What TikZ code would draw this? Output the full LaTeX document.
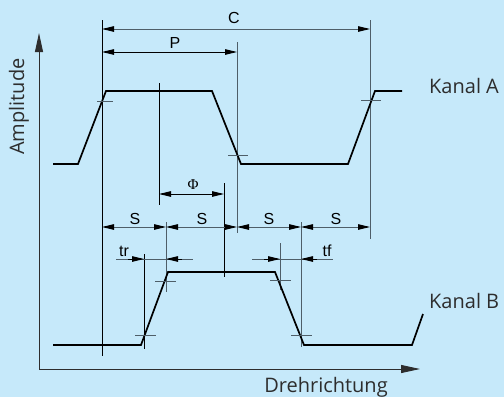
\documentclass[tikz,border=0pt]{standalone}
\usepackage{fontspec}
\setmainfont{Liberation Sans}
\newfontfamily\labfont{Open Sans}
\newfontfamily\phifont{Liberation Serif}
\usetikzlibrary{arrows.meta}
\definecolor{bg}{RGB}{198,233,250}
\definecolor{lgray}{RGB}{78,94,104}
\definecolor{txt}{RGB}{45,45,45}
\begin{document}
\begin{tikzpicture}[x=1pt,y=-1pt,
  wave/.style={line width=1.7pt, black, line join=miter},
  extb/.style={line width=0.85pt, black},
  extg/.style={line width=0.85pt, lgray},
  tickg/.style={line width=0.85pt, lgray},
  dimb/.style={line width=0.85pt, black, {Triangle[length=12pt,width=5.5pt]}-{Triangle[length=12pt,width=5.5pt]}},
  dimg/.style={line width=0.85pt, lgray, {Triangle[length=12pt,width=5.5pt,color=black]}-{Triangle[length=12pt,width=5.5pt,color=black]}},
  onetip/.style={line width=0.85pt, black, -{Triangle[length=12pt,width=5.5pt]}},
  axisline/.style={line width=0.9pt, txt, {Triangle[length=19pt,width=8pt]}-{Triangle[length=19pt,width=8pt]}},
  dimlabel/.style={font=\fontsize{16}{16}\selectfont, text=black, inner sep=0pt},
  biglabel/.style={font=\labfont\fontsize{20}{20}\selectfont, text=txt, inner sep=0pt}
]
\fill[bg] (0,0) rectangle (504,397);
\useasboundingbox (0,0) rectangle (504,397);

% axes
\coordinate (ytop) at (39,33);
\coordinate (orig) at (39,369);
\coordinate (xend) at (420,369);
\draw[axisline] (ytop) -- (orig) -- (xend);

% extension lines
\draw[extb] (102,20) -- (102,356);
\draw[extb] (159,83) -- (159,205);
\draw[extb] (224,183) -- (224,277);
\draw[extb] (144,254) -- (144,349);
\draw[extg] (237,42) -- (237,233);
\draw[extg] (370,20) -- (370,239);
\draw[extg] (166,222) -- (166,292);
\draw[extg] (280,243) -- (280,290);
\draw[extg] (301,222) -- (301,347);

% waveforms
\draw[wave] (53,164) -- (78,164) -- (106,91) -- (212,91) -- (241,164) -- (348,164) -- (375,91) -- (402,91);
\draw[wave] (53,345) -- (141,345) -- (168,272) -- (275,272) -- (304,345) -- (412,345) -- (423,314);

% ticks
\draw[tickg] (97,101) -- (113,101);
\draw[tickg] (228,155) -- (248,155);
\draw[tickg] (361,100) -- (381,100);
\draw[tickg] (135,335) -- (156,335);
\draw[tickg] (155,281) -- (176,281);
\draw[tickg] (270,280) -- (291,280);
\draw[tickg] (291,335) -- (312,335);

% C and P
\draw[dimg] (102,29) -- (370,29);
\node[dimlabel] (lC) at (234,18) {C};
\draw[dimb] (102,52) -- (237,52);
\node[dimlabel] (lP) at (175,43) {P};

% Phi
\draw[dimb] (159,194) -- (224,194);
\node[dimlabel, font=\phifont\fontsize{15}{15}\selectfont] (lPhi) at (193,184.5) {Φ};

% S row
\draw[dimg] (102,227) -- (166,227);
\draw[dimg] (166,227) -- (237,227);
\draw[dimg] (237,227) -- (301,227);
\draw[dimg] (301,227) -- (370,227);
\node[dimlabel] (s1) at (135,219) {S};
\node[dimlabel] (s2) at (202,219) {S};
\node[dimlabel] (s3) at (269,219) {S};
\node[dimlabel] (s4) at (336,219) {S};

% tr
\draw[extg] (116,259) -- (193,259);
\draw[onetip] (128,259) -- (144,259);
\draw[onetip] (182,259) -- (166,259);
\node[dimlabel] (ltr) at (124,251) {tr};

% tf
\draw[extg] (252,259) -- (333,259);
\draw[onetip] (264,259) -- (280,259);
\draw[onetip] (317,259) -- (301,259);
\node[dimlabel] (ltf) at (327,251) {tf};

% labels
\node[biglabel, anchor=base west] (ka) at (429,93) {Kanal A};
\node[biglabel, anchor=base west] (kb) at (429,308) {Kanal B};
\node[biglabel, anchor=base west, rotate=90] (amp) at (24,155) {Amplitude};
\node[biglabel, anchor=base] (dr) at (326,392) {Drehrichtung};
\end{tikzpicture}
\end{document}
